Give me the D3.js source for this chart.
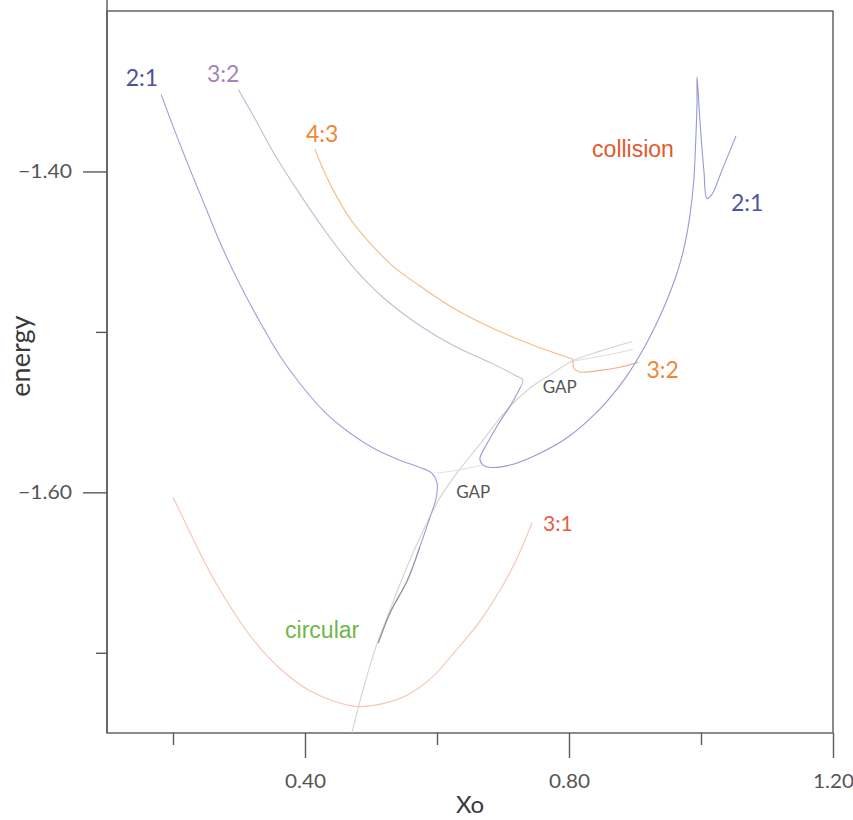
<!DOCTYPE html>
<html>
<head>
<meta charset="utf-8">
<script src="https://cdn.jsdelivr.net/npm/d3@7"></script>
<style>
  html, body { margin: 0; padding: 0; background: #fff; }
  svg { display: block; }
  .tick text { font-family: Lato, "Noto Sans", sans-serif; }
</style>
</head>
<body>
<div id="chart"></div>
<script>
// Families of periodic orbits: initial position Xo against energy.

// 2:1 resonance, left branch running down into the lower gap
const res21Left = [
  [0.182, -1.352], [0.203, -1.375], [0.226, -1.399], [0.249, -1.422],
  [0.271, -1.444], [0.302, -1.471], [0.332, -1.494], [0.362, -1.515],
  [0.392, -1.532], [0.430, -1.550], [0.468, -1.563], [0.506, -1.573],
  [0.544, -1.580], [0.574, -1.5845], [0.592, -1.588], [0.600, -1.594],
  [0.599, -1.603], [0.589, -1.616], [0.574, -1.634]
];
// 2:1 tail lying on top of the circular family
const res21Tail = [
  [0.574, -1.634], [0.555, -1.655], [0.529, -1.675], [0.511, -1.694]
];
// 2:1 loop between the gaps, then the right branch up to the collision spike
const res21Right = [
  [0.727, -1.534], [0.714, -1.544], [0.692, -1.558], [0.674, -1.571],
  [0.665, -1.579], [0.670, -1.583], [0.683, -1.5845], [0.711, -1.583],
  [0.749, -1.577], [0.797, -1.566], [0.847, -1.548], [0.885, -1.529],
  [0.915, -1.509], [0.938, -1.490], [0.958, -1.470], [0.973, -1.450],
  [0.983, -1.428], [0.989, -1.406], [0.992, -1.381], [0.994, -1.357],
  [0.994, -1.341], [0.9985, -1.369], [1.0045, -1.400], [1.009, -1.417],
  [1.017, -1.414], [1.032, -1.399], [1.053, -1.378]
];
// 3:2 resonance, upper branch reaching the upper gap
const res32Upper = [
  [0.299, -1.349], [0.324, -1.367], [0.352, -1.388], [0.392, -1.414],
  [0.433, -1.4385], [0.476, -1.461], [0.521, -1.4795], [0.574, -1.496],
  [0.627, -1.509], [0.680, -1.519], [0.718, -1.527], [0.730, -1.530],
  [0.727, -1.534]
];
// 3:2 short piece to the right of the upper gap
const res32Piece = [
  [0.806, -1.517], [0.808, -1.523], [0.817, -1.525], [0.847, -1.524],
  [0.877, -1.522], [0.905, -1.519]
];
// 4:3 resonance
const res43 = [
  [0.415, -1.386], [0.430, -1.401], [0.4485, -1.416], [0.471, -1.431],
  [0.4985, -1.4447], [0.533, -1.459], [0.574, -1.4714], [0.620, -1.484],
  [0.680, -1.497], [0.741, -1.5075], [0.806, -1.517]
];
// circular family
const circular = [
  [0.471, -1.750], [0.488, -1.723], [0.506, -1.698], [0.529, -1.673],
  [0.556, -1.645], [0.579, -1.624], [0.605, -1.603], [0.630, -1.588],
  [0.665, -1.570], [0.703, -1.550], [0.741, -1.535], [0.774, -1.526],
  [0.806, -1.518], [0.847, -1.512], [0.896, -1.506]
];
const circularEdge = [
  [0.809, -1.518], [0.850, -1.515], [0.897, -1.511]
];
const gapLink = [
  [0.600, -1.588], [0.635, -1.586], [0.668, -1.583]
];
// 3:1 resonance
const res31 = [
  [0.200, -1.603], [0.220, -1.620], [0.241, -1.638], [0.265, -1.6565],
  [0.291, -1.674], [0.317, -1.6894], [0.344, -1.7025], [0.373, -1.7137],
  [0.4045, -1.723], [0.441, -1.7298], [0.479, -1.7335], [0.518, -1.7317],
  [0.556, -1.7261], [0.592, -1.7155], [0.627, -1.6994], [0.662, -1.682],
  [0.692, -1.6634], [0.720, -1.6422], [0.744, -1.619]
];

// axis ticks
const xMajorTicks = [0.40, 0.80, 1.20];
const xMinorTicks = [0.20, 0.60, 1.00];
const yMajorTicks = [-1.40, -1.60];
const yMinorTicks = [-1.50, -1.70];

// curve labels: text, x, energy
const labelTexts = ["2:1", "3:2", "4:3", "collision", "2:1", "3:2", "GAP", "GAP", "3:1", "circular"];
const labelX = [0.153, 0.276, 0.426, 0.897, 1.070, 0.942, 0.786, 0.655, 0.783, 0.426];
const labelY = [-1.3466, -1.3441, -1.3817, -1.3907, -1.4248, -1.5286, -1.5379, -1.6034, -1.6242, -1.6907];

const W = 853, H = 820;
const svg = d3.select("#chart").append("svg").attr("width", W).attr("height", H);

const x = d3.scaleLinear().domain([0.1, 1.2]).range([107, 833]);
const y = d3.scaleLinear().domain([-1.75, -1.30]).range([733, 11]);

// frame
const frameColor = "#5a5a5a";
svg.append("rect")
  .attr("x", x(0.1)).attr("y", y(-1.30))
  .attr("width", x(1.2) - x(0.1)).attr("height", y(-1.75) - y(-1.30))
  .attr("fill", "none").attr("stroke", frameColor).attr("stroke-width", 1.4);

// axes
const fmt = d3.format(".2f");
function styleAxis(len) {
  return g => {
    g.select(".domain").remove();
    g.selectAll(".tick line").attr("stroke", frameColor).attr("stroke-width", 1.4);
    g.selectAll(".tick text").attr("fill", "#555").attr("font-size", 20)
      .attr("textLength", len).attr("lengthAdjust", "spacingAndGlyphs");
  };
}
svg.append("g").attr("transform", `translate(0,${y(-1.75)})`)
  .call(d3.axisBottom(x).tickValues(xMajorTicks).tickSize(25).tickPadding(16).tickFormat(fmt))
  .call(styleAxis(41));
svg.append("g").attr("transform", `translate(0,${y(-1.75)})`)
  .call(d3.axisBottom(x).tickValues(xMinorTicks).tickSize(12).tickFormat(""))
  .call(styleAxis(null));
svg.append("g").attr("transform", `translate(${x(0.1)},0)`)
  .call(d3.axisLeft(y).tickValues(yMajorTicks).tickSize(24).tickPadding(11).tickFormat(fmt))
  .call(styleAxis(54));
svg.append("g").attr("transform", `translate(${x(0.1)},0)`)
  .call(d3.axisLeft(y).tickValues(yMinorTicks).tickSize(11).tickFormat(""))
  .call(styleAxis(null));
// left spine runs up to the top edge
svg.append("line")
  .attr("x1", x(0.1)).attr("x2", x(0.1)).attr("y1", 0).attr("y2", y(-1.75))
  .attr("stroke", frameColor).attr("stroke-width", 1.4);

// axis titles
svg.append("text").text("Xo")
  .attr("x", (x(0.1) + x(1.2)) / 2).attr("y", 813)
  .attr("text-anchor", "middle").attr("font-family", "Lato, sans-serif")
  .attr("font-size", 24).attr("fill", "#3a3a3a");
svg.append("text").text("energy")
  .attr("transform", `translate(30,${(y(-1.50) + y(-1.60)) / 2 - 56}) rotate(-90)`)
  .attr("text-anchor", "middle").attr("font-family", "Lato, sans-serif")
  .attr("font-size", 27).attr("fill", "#3a3a3a");

// curves
svg.append("clipPath").attr("id", "plot").append("rect")
  .attr("x", x(0.1)).attr("y", y(-1.30))
  .attr("width", x(1.2) - x(0.1)).attr("height", y(-1.75) - y(-1.30));
const line = d3.line().x(d => x(d[0])).y(d => y(d[1])).curve(d3.curveCatmullRom.alpha(0.5));
const plot = svg.append("g").attr("clip-path", "url(#plot)").attr("fill", "none");

const curves = [
  { data: circular, color: "#d2d4d0", w: 1.1 },
  { data: circularEdge, color: "#dadcd8", w: 1.0 },
  { data: gapLink, color: "#e0e0e0", w: 1.0 },
  { data: res31, color: "#f6c4ae", w: 1.1 },
  { data: res43, color: "#f6bc84", w: 1.1 },
  { data: res32Upper, color: "#c1bdd2", w: 1.1 },
  { data: res32Piece, color: "#f2b089", w: 1.1 },
  { data: res21Left, color: "#9ea1d9", w: 1.1 },
  { data: res21Tail, color: "#8e8fa2", w: 1.3 },
  { data: res21Right, color: "#9699d5", w: 1.1 }
];
plot.selectAll("path").data(curves).join("path")
  .attr("d", d => line(d.data))
  .attr("stroke", d => d.color)
  .attr("stroke-width", d => d.w)
  .attr("stroke-linejoin", "round");

// labels
const labelColors = ["#4d519c", "#a683b9", "#ee8738", "#e15a30", "#4d54a2", "#ee8738", "#555555", "#555555", "#e2604a", "#6db749"];
const labelFonts = ["Lato", "Lato", "Lato", "Liberation Sans", "Lato", "Lato", "Lato", "Lato", "Lato", "Liberation Sans"];
const labelSizes = [23, 23, 23, 23, 23, 23, 17, 17, 21, 23];
svg.append("g").selectAll("text").data(labelTexts).join("text")
  .text(d => d)
  .attr("x", (d, i) => x(labelX[i]))
  .attr("y", (d, i) => y(labelY[i]))
  .attr("text-anchor", "middle")
  .attr("font-family", (d, i) => labelFonts[i] + ", sans-serif")
  .attr("font-size", (d, i) => labelSizes[i])
  .attr("fill", (d, i) => labelColors[i]);
</script>
</body>
</html>
